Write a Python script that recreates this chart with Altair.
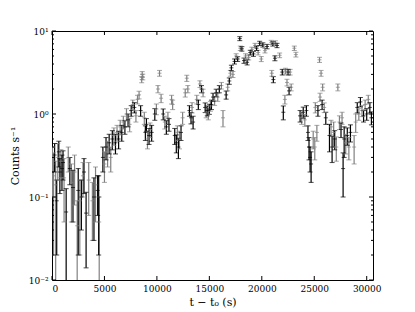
import altair as alt
import pandas as pd

# ---- data (t - t0 in s, rate in counts/s, 1-sigma error) ----
gray_t = [50, 150, 350, 550, 850, 1150, 1550, 1850, 2150, 2400,
          2650, 2950, 3500, 3850, 4150, 4500, 5000, 5300, 5600, 5900,
          6200, 6500, 6800, 7100, 7400, 7700, 8000, 8150, 8300, 8550,
          8600, 8650, 8800, 9100, 9350, 9950, 10100, 10250, 10400, 10750,
          11050, 11400, 11500, 11950, 12150, 12450, 12700, 12850, 12950, 13350,
          13800, 14100, 14400, 14700, 14900, 15100, 15500, 15800, 16150, 16300,
          16750, 17000, 17250, 17550, 17950, 18450, 18750, 19050, 19350, 19650,
          19950, 20300, 20900, 20950, 21300, 21700, 22200, 22250, 22400, 22700,
          22800, 23100, 23250, 23800, 24100, 24900, 25050, 25100, 25250, 25500,
          25550, 25650, 25800, 25950, 26600, 26850, 27100, 27250, 27400, 27650,
          28000, 28300, 28800, 28950, 29250, 29550, 29850, 30150]
gray_rate = [0.25, 0.18, 0.14, 0.30, 0.27, 0.17, 0.30, 0.15, 0.20, 0.045,
             0.09, 0.18, 0.16, 0.09, 0.14, 0.05, 0.25, 0.35, 0.30, 0.55,
             0.60, 0.70, 0.80, 1.00, 0.75, 1.30, 0.95, 1.50, 1.70, 2.60,
             3.00, 2.80, 0.90, 0.50, 0.65, 1.15, 2.00, 3.10, 1.55, 0.80,
             0.90, 1.50, 1.30, 0.60, 0.50, 0.90, 1.80, 2.70, 2.00, 1.20,
             1.50, 2.30, 1.80, 1.05, 1.00, 1.25, 1.45, 1.60, 2.20, 0.90,
             2.10, 3.10, 3.00, 5.00, 6.20, 5.00, 4.80, 6.00, 6.70, 5.50,
             4.60, 5.80, 7.30, 3.10, 7.20, 5.10, 1.50, 3.30, 2.40, 3.20,
             2.10, 6.20, 5.20, 0.90, 0.85, 0.50, 0.40, 1.20, 0.60, 4.50,
             1.60, 3.10, 2.10, 1.20, 0.70, 0.60, 0.40, 2.10, 0.80, 0.90,
             0.45, 0.40, 0.40, 0.80, 1.00, 1.10, 1.30, 1.50]
gray_err = [0.15, 0.16, 0.13, 0.14, 0.10, 0.12, 0.10, 0.10, 0.12, 0.045,
            0.07, 0.08, 0.10, 0.06, 0.09, 0.05, 0.10, 0.12, 0.10, 0.13,
            0.13, 0.14, 0.14, 0.16, 0.14, 0.17, 0.15, 0.18, 0.18, 0.22,
            0.24, 0.22, 0.15, 0.12, 0.13, 0.17, 0.20, 0.25, 0.18, 0.14,
            0.15, 0.18, 0.17, 0.12, 0.12, 0.15, 0.20, 0.23, 0.20, 0.17,
            0.18, 0.21, 0.19, 0.15, 0.15, 0.17, 0.18, 0.18, 0.20, 0.20,
            0.20, 0.25, 0.25, 0.32, 0.38, 0.32, 0.32, 0.38, 0.40, 0.35,
            0.32, 0.36, 0.42, 0.25, 0.42, 0.33, 0.18, 0.26, 0.22, 0.25,
            0.20, 0.38, 0.34, 0.15, 0.14, 0.12, 0.12, 0.17, 0.13, 0.32,
            0.18, 0.25, 0.20, 0.16, 0.14, 0.20, 0.13, 0.20, 0.15, 0.15,
            0.12, 0.12, 0.15, 0.20, 0.16, 0.17, 0.17, 0.18]

black_t = [250, 450, 650, 750, 950, 1050, 1350, 1700, 2000, 2500,
           2800, 3050, 3250, 4000, 4350, 4450, 4850, 5150, 5450, 5750,
           6050, 6350, 6650, 6950, 7250, 7550, 7850, 8450, 8900, 9000,
           9250, 9500, 9800, 10600, 10900, 11150, 11700, 11850, 12050, 12300,
           13100, 13250, 13450, 13950, 14250, 14600, 14800, 15000, 15200, 15350,
           15650, 15950, 16600, 16900, 17100, 17400, 17700, 17900, 18100, 18300,
           18600, 18900, 19200, 19500, 19800, 20100, 20500, 21050, 21100, 21250,
           21450, 21950, 22050, 22500, 22600, 23650, 23950, 24250, 24400, 24500,
           24600, 24700, 25350, 25750, 26100, 26450, 26700, 26950, 27550, 27750,
           27850, 28150, 28450, 29100, 29400, 29700, 30000, 30300, 30450]
black_rate = [0.32, 0.09, 0.35, 0.20, 0.22, 0.26, 0.066, 0.22, 0.13, 0.12,
              0.10, 0.20, 0.064, 0.10, 0.12, 0.10, 0.30, 0.40, 0.45, 0.50,
              0.45, 0.50, 0.60, 0.70, 0.85, 1.10, 1.20, 1.10, 0.60, 0.75,
              0.55, 0.60, 1.00, 1.00, 0.70, 0.75, 0.55, 0.45, 0.40, 0.60,
              1.10, 0.90, 0.80, 1.30, 2.00, 1.20, 1.10, 1.15, 1.30, 1.60,
              1.80, 2.00, 1.70, 2.50, 3.60, 4.30, 4.60, 8.10, 6.10, 4.40,
              4.20, 5.50, 5.30, 6.20, 7.10, 6.80, 6.50, 7.00, 2.60, 4.70,
              6.70, 3.20, 1.05, 3.20, 1.90, 0.95, 1.05, 1.10, 0.60, 0.40,
              0.30, 0.25, 1.10, 1.30, 0.90, 0.55, 0.40, 0.50, 0.65, 0.22,
              0.50, 0.55, 0.60, 1.20, 1.40, 0.95, 1.00, 1.20, 0.90]
black_err = [0.12, 0.07, 0.12, 0.09, 0.10, 0.10, 0.06, 0.08, 0.08, 0.10,
             0.06, 0.09, 0.05, 0.07, 0.06, 0.08, 0.10, 0.12, 0.12, 0.13,
             0.12, 0.12, 0.13, 0.13, 0.15, 0.16, 0.17, 0.16, 0.12, 0.13,
             0.12, 0.13, 0.16, 0.15, 0.13, 0.13, 0.12, 0.11, 0.11, 0.12,
             0.16, 0.14, 0.14, 0.17, 0.20, 0.16, 0.15, 0.16, 0.17, 0.18,
             0.19, 0.20, 0.19, 0.22, 0.27, 0.30, 0.30, 0.45, 0.38, 0.32,
             0.30, 0.35, 0.35, 0.38, 0.42, 0.40, 0.40, 0.42, 0.22, 0.32,
             0.40, 0.25, 0.20, 0.25, 0.20, 0.15, 0.16, 0.16, 0.12, 0.12,
             0.10, 0.10, 0.16, 0.17, 0.15, 0.20, 0.14, 0.13, 0.13, 0.12,
             0.20, 0.13, 0.14, 0.17, 0.18, 0.15, 0.16, 0.17, 0.16]

x_ticks = [0, 5000, 10000, 15000, 20000, 25000, 30000]
y_major = [0.01, 0.1, 1, 10]
y_minor = [m * d for d in (0.01, 0.1, 1) for m in range(2, 10)]

# ---- build table ----
rows = []
for name, ts, rs, es in (("gray", gray_t, gray_rate, gray_err),
                         ("black", black_t, black_rate, black_err)):
    for t, r, e in zip(ts, rs, es):
        rows.append({"t": t, "rate": r, "lo": max(r - e, 1e-4), "hi": r + e, "series": name})
df = pd.DataFrame(rows)

W, H = 321, 249
FONT = "DejaVu Serif"

xscale = alt.Scale(domain=[0, 30600], nice=False, zero=False)
yscale = alt.Scale(type="log", domain=[0.01, 10], nice=False, clamp=True)
color = alt.Color("series:N", scale=alt.Scale(domain=["gray", "black"], range=["#808080", "#000000"]), legend=None)

label_expr = "datum.value < 0.05 ? '10⁻²' : datum.value < 0.5 ? '10⁻¹' : datum.value < 5 ? '10⁰' : '10¹'"

xax = alt.Axis(values=x_ticks, ticks=False, domain=False, grid=False, labelPadding=4,
               title="t − t₀ (s)", titlePadding=3, format="d")
yax = alt.Axis(values=y_major, ticks=False, domain=False, grid=False, labelPadding=4,
               labelExpr=label_expr, title="Counts s⁻¹", titlePadding=8)

base = alt.Chart(df)
bars = base.mark_rule(strokeWidth=1.2, clip=True).encode(
    x=alt.X("t:Q", scale=xscale, axis=xax),
    y=alt.Y("lo:Q", scale=yscale, axis=yax),
    y2="hi:Q",
    color=color,
)
caps_hi = base.mark_tick(orient="horizontal", size=5, thickness=1, clip=True).encode(
    x="t:Q", y=alt.Y("hi:Q"), color=color)
caps_lo = base.transform_filter("datum.lo > 0.0101").mark_tick(
    orient="horizontal", size=5, thickness=1, clip=True).encode(
    x="t:Q", y=alt.Y("lo:Q"), color=color)
centers = base.mark_tick(orient="horizontal", size=4, thickness=1, clip=True).encode(
    x="t:Q", y=alt.Y("rate:Q"), color=color)

# inward frame ticks
xt = pd.DataFrame({"t": x_ticks})
ymaj = pd.DataFrame({"lo": y_major})
ymin = pd.DataFrame({"lo": y_minor})
tick_col = alt.value("#000000")
xt_bot = alt.Chart(xt).mark_rule(strokeWidth=1).encode(x="t:Q", y=alt.value(H - 4), y2=alt.value(H), color=tick_col)
xt_top = alt.Chart(xt).mark_rule(strokeWidth=1).encode(x="t:Q", y=alt.value(0), y2=alt.value(4), color=tick_col)
yt_l = alt.Chart(ymaj).mark_rule(strokeWidth=1).encode(y="lo:Q", x=alt.value(0), x2=alt.value(4), color=tick_col)
yt_r = alt.Chart(ymaj).mark_rule(strokeWidth=1).encode(y="lo:Q", x=alt.value(W - 4), x2=alt.value(W), color=tick_col)
ym_l = alt.Chart(ymin).mark_rule(strokeWidth=1).encode(y="lo:Q", x=alt.value(0), x2=alt.value(2), color=tick_col)
ym_r = alt.Chart(ymin).mark_rule(strokeWidth=1).encode(y="lo:Q", x=alt.value(W - 2), x2=alt.value(W), color=tick_col)

chart = alt.layer(bars, caps_hi, caps_lo, centers, xt_bot, xt_top, yt_l, yt_r, ym_l, ym_r).properties(
    width=W, height=H,
    autosize=alt.AutoSizeParams(type="none"),
    padding={"left": 44, "top": 23, "right": 30, "bottom": 40},
).configure_view(stroke="#000000", strokeWidth=1).configure_axis(
    labelFont=FONT, titleFont=FONT, labelFontSize=9, titleFontSize=11,
    labelColor="#000000", titleColor="#000000", titleFontWeight="normal",
)

chart.save("out.html", embed_options={"renderer": "svg", "actions": False})
